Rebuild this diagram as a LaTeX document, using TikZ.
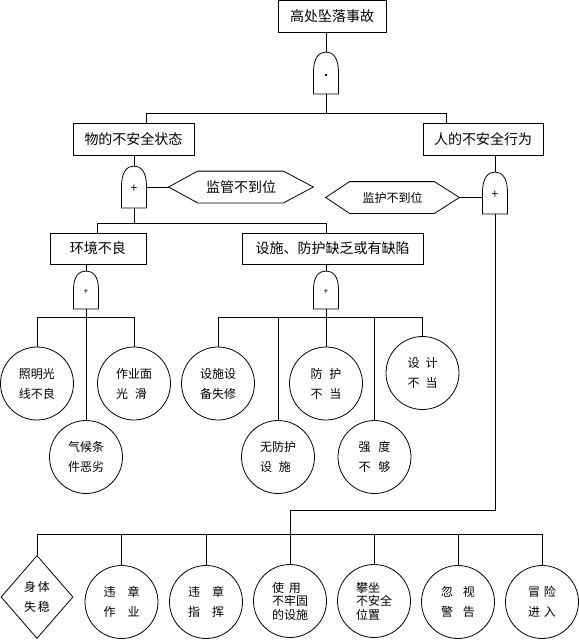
\documentclass[tikz,border=0pt]{standalone}
\usepackage{fontspec}
\newfontfamily\cjk{Noto Sans CJK SC}
\usetikzlibrary{shapes.geometric,calc}
\tikzset{
  gate/.pic={
    \draw[fill=white] (-12.5,0) -- (-12.5,-22) .. controls (-12.5,-36) and (-7,-42) .. (0,-42)
      .. controls (7,-42) and (12.5,-36) .. (12.5,-22) -- (12.5,0) -- cycle;
    \coordinate (-top) at (0,-42);
    \coordinate (-bot) at (0,0);
    \coordinate (-left) at (-12.5,-21);
    \coordinate (-right) at (12.5,-21);
    \node[inner sep=0pt] at (0,-19) {#1};
  }
}
\begin{document}
\begin{tikzpicture}[x=1pt,y=-1pt,line width=0.8pt,
  box/.style={draw,rectangle,inner sep=0pt,minimum height=32pt,font=\cjk\fontsize{14}{16}\selectfont},
  circ/.style={draw,circle,inner sep=0pt,minimum size=73pt,align=center,font=\cjk\fontsize{12}{20}\selectfont},
  circthree/.style={circ,font=\cjk\fontsize{12}{13.5}\selectfont},
  hexa/.style={inner sep=0pt,minimum height=31pt},
  diam/.style={draw,diamond,inner sep=0pt,minimum width=72pt,minimum height=83pt,align=center,font=\cjk\fontsize{12}{20}\selectfont}
]
\fill[white] (0,0) rectangle (579,641);
\useasboundingbox (0,0) rectangle (579,641);

% boxes
\node[box,minimum width=108pt] (top) at (332,16.5) {高处坠落事故};
\node[box,minimum width=121pt] (ws) at (133.5,139) {物的不安全状态};
\node[box,minimum width=120pt] (rs) at (483,139) {人的不安全行为};
\node[box,minimum width=96pt,minimum height=31pt] (hj) at (98,248.5) {环境不良};
\node[box,minimum width=181pt,minimum height=31pt] (ss) at (332.5,248.5) {设施、防护缺乏或有缺陷};

% gates
\pic (g1) at (326,94) {gate={\rule{2.4pt}{2.4pt}}};
\pic (g2) at (134,208) {gate={\cjk\fontsize{12}{12}\selectfont +}};
\pic (g3) at (495,214) {gate={\cjk\fontsize{12}{12}\selectfont +}};
\pic[yscale=0.905] (g4) at (86,309) {gate={\cjk\fontsize{8.5}{8.5}\selectfont +}};
\pic[yscale=0.905] (g5) at (326,309) {gate={\cjk\fontsize{8.5}{8.5}\selectfont +}};

% hexagons
\node[hexa,minimum width=144pt,font=\cjk\fontsize{14}{16}\selectfont] (h1) at (241,187) {监管不到位};
\draw (h1.west) -- ($(h1.north west)+(29,0)$) -- ($(h1.north east)+(-30,0)$) -- (h1.east)
  -- ($(h1.south east)+(-30,0)$) -- ($(h1.south west)+(29,0)$) -- cycle;
\node[hexa,minimum width=133pt,font=\cjk\fontsize{12}{14}\selectfont] (h2) at (392.5,197.5) {监护不到位};
\draw (h2.west) -- ($(h2.north west)+(24,0)$) -- ($(h2.north east)+(-25,0)$) -- (h2.east)
  -- ($(h2.south east)+(-25,0)$) -- ($(h2.south west)+(24,0)$) -- cycle;

% circles (middle)
\node[circ] (c1) at (37,383.5) {照明光\\线不良};
\node[circ] (c2) at (86,457) {气候条\\件恶劣};
\node[circ,align=left] (c3) at (134,383.5) {作业面\\光\hspace{7pt}滑};
\node[circ] (c4) at (218,383.5) {设施设\\备失修};
\node[circ,align=left] (c5) at (278,457) {无防护\\设\hspace{7pt}施};
\node[circ] (c6) at (326,383.5) {防\hspace{7pt}护\\不\hspace{7pt}当};
\node[circ] (c7) at (374.5,457) {强\hspace{8pt}度\\不\hspace{8pt}够};
\node[circ] (c8) at (422.5,373) {设\hspace{6pt}计\\不\hspace{6pt}当};

% bottom row
\node[diam] (d1) at (37,597) {身\hspace{2pt}体\\失\hspace{2pt}稳};
\node[circ] (e1) at (121.5,602) {违\hspace{12pt}章\\作\hspace{12pt}业};
\node[circ] (e2) at (206,602) {违\hspace{12pt}章\\指\hspace{12pt}挥};
\node[circthree,align=left] (e3) at (290,601) {使\hspace{5pt}用\\不牢固\\的设施};
\node[circthree,align=left] (e4) at (374,601) {攀坐\\不安全\\位置};
\node[circ] (e5) at (458,602) {忽\hspace{10pt}视\\警\hspace{10pt}告};
\node[circ] (e6) at (542,602) {冒\hspace{4pt}险\\进\hspace{4pt}入};

% connectors
\coordinate (b1l) at (146,113);
\coordinate (b1r) at (446,113);
\draw (top.south -| g1-top) -- (g1-top);
\draw (g1-bot) -- (g1-bot |- b1l);
\draw (ws.north -| b1l) -- (b1l) -- (b1r) -- (rs.north -| b1r);
\draw (ws.south -| g2-top) -- (g2-top);
\draw (h1.west -| g2-right) -- (h1.west);
\draw (rs.south -| g3-top) -- (g3-top);
\draw (h2.east) -- (h2.east -| g3-left);

\coordinate (b2l) at (97,223);
\coordinate (b2r) at (326,223);
\draw (g2-bot) -- (g2-bot |- b2l);
\draw (hj.north -| b2l) -- (b2l) -- (b2r) -- (ss.north -| b2r);
\draw (hj.south -| g4-top) -- (g4-top);
\draw (ss.south -| g5-top) -- (g5-top);

\coordinate (b4) at (86,317);
\draw (g4-bot) -- (c2.north);
\draw (c1.north) -- (c1.north |- b4) -- (c3.north |- b4) -- (c3.north);

\coordinate (b5) at (326,317);
\draw (g5-bot) -- (c6.north);
\draw (c4.north) -- (c4.north |- b5) -- (c8.north |- b5) -- (c8.north);
\draw (c5.north) -- (c5.north |- b5);
\draw (c7.north) -- (c7.north |- b5);

\coordinate (j1) at (495,510);
\coordinate (b6) at (290,534);
\draw (g3-bot) -- (j1) -| (e3.north);
\draw (d1.north) -- (d1.north |- b6) -- (e6.north |- b6) -- (e6.north);
\foreach \n in {e1,e2,e4,e5} \draw (\n.north) -- (\n.north |- b6);
\end{tikzpicture}
\end{document}
